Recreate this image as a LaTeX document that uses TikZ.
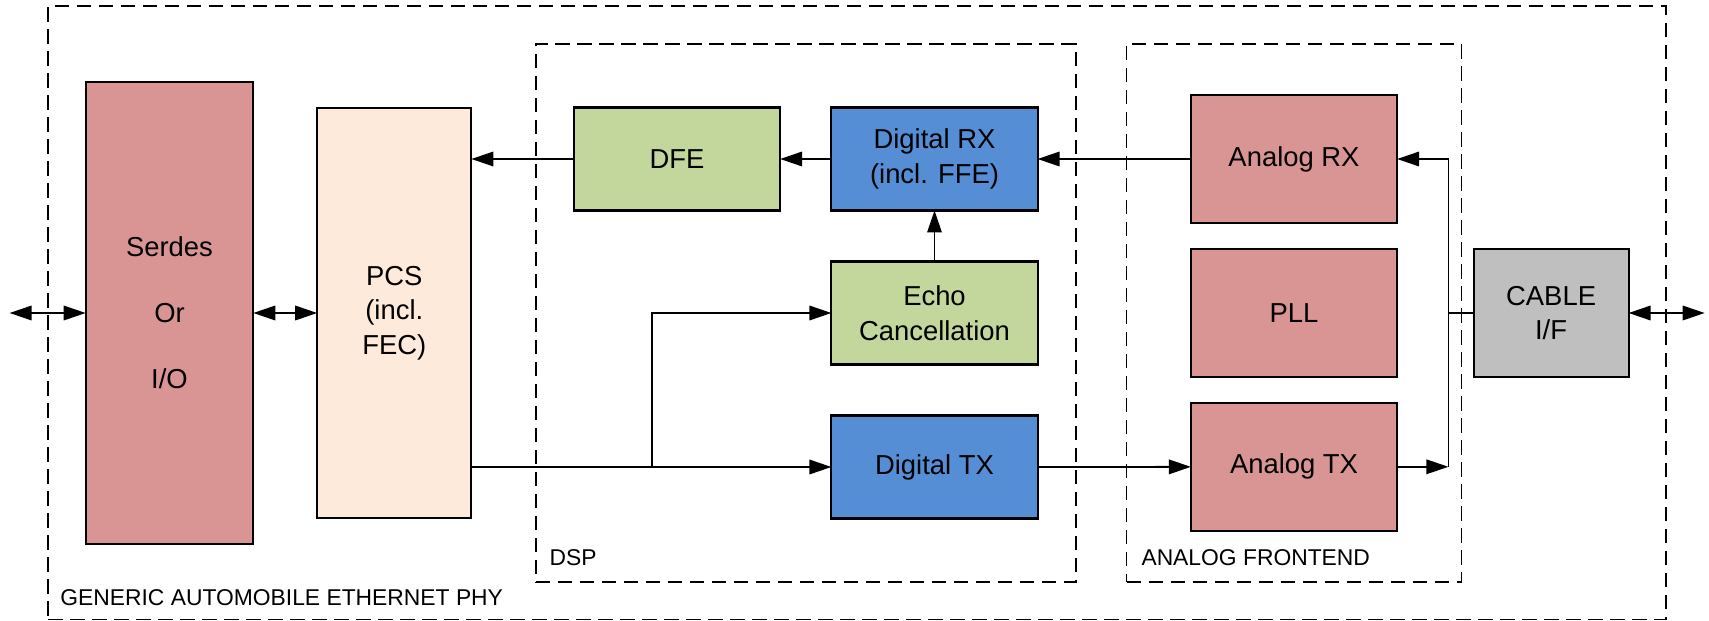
\documentclass[tikz,border=0pt]{standalone}
\usepackage{fontspec}
\setmainfont{Liberation Sans}
\usepackage{xcolor}
\usepackage{tikz}
\usetikzlibrary{shapes,arrows.meta,positioning,fit}
\definecolor{rougeAna}{RGB}{217,149,148}
\definecolor{saumonPcs}{RGB}{253,234,218}
\definecolor{vertDsp}{RGB}{195,214,155}
\definecolor{bleuDig}{RGB}{85,142,213}
\definecolor{grisCable}{RGB}{191,191,191}

\begin{document}
\begin{tikzpicture}[x=1mm, y=-1mm,
		box/.style={rectangle, draw, line width=0.6pt, outer sep=0pt, align=center, inner sep=1pt,
			font=\fontsize{7.8}{9.8}\selectfont},
		dspbox/.style={box, minimum width=20.62mm, minimum height=10.3mm},
		afebox/.style={box, fill=rougeAna, minimum width=20.62mm, minimum height=12.84mm},
		grp/.style={draw, line width=0.5pt, outer sep=0pt, dash pattern=on 1.45mm off 0.75mm},
		grplbl/.style={font=\fontsize{6.5}{7.5}\selectfont, inner sep=0pt, anchor=base west},
		arr/.style={-{Triangle[length=2.2mm, width=1.45mm]}, line width=0.5pt},
		biarr/.style={{Triangle[length=2.2mm, width=1.45mm]}-{Triangle[length=2.2mm, width=1.45mm]}, line width=0.5pt},
		node distance=5.1mm
		]
		\useasboundingbox (0,0) rectangle (170.9,62.1);
		
		\node[box, fill=rougeAna, minimum width=16.76mm, minimum height=46.14mm] (serdes) at (16.95,31.3) {Serdes\\[9pt]Or\\[9pt]I/O};
		\node[box, fill=saumonPcs, minimum width=15.42mm, minimum height=41.03mm] (pcs) at (39.43,31.3) {PCS\\(incl.\\FEC)};
		
		\node[dspbox, fill=vertDsp] (dfe) at (67.70,15.9) {DFE};
		\node[dspbox, fill=bleuDig] (drx) at (93.45,15.9) {Digital RX\\(incl. FFE)};
		\node[dspbox, fill=vertDsp, below=of drx] (echo) {Echo\\Cancellation};
		\node[dspbox, fill=bleuDig, below=of echo] (dtx) {Digital TX};
		
		\node[afebox] (arx) at (129.40,15.9) {Analog RX};
		\node[afebox, below=2.55mm of arx] (pll) {PLL};
		\node[afebox, below=2.55mm of pll] (atx) {Analog TX};
		
		\node[box, fill=grisCable, minimum width=15.5mm, minimum height=12.83mm] (cable) at (155.11,31.3) {CABLE\\I/F};
		
		\node[grp, fit=(dfe)(drx)(dtx), inner xsep=3.82mm, inner ysep=6.35mm] (dsp) {};
		\node[grp, fit=(arx)(atx), inner xsep=6.43mm, inner ysep=5.1mm] (afe) {};
		\node[grp, fit=(serdes)(dsp)(afe)(cable), inner xsep=3.75mm, inner ysep=3.75mm] (phy) {};
		
		\node[grplbl] (dsplbl) at ([shift={(1.33mm,1.64mm)}]dsp.south west) {DSP};
		\node[grplbl] (afelbl) at ([shift={(1.42mm,1.64mm)}]afe.south west) {ANALOG FRONTEND};
		\node[grplbl] (phylbl) at ([shift={(1.15mm,1.44mm)}]phy.south west) {GENERIC AUTOMOBILE ETHERNET PHY};
		
		\coordinate (lend) at (0.96,31.3);
		\coordinate (rend) at (170.47,31.3);
		\coordinate (split) at (65.19,0);
		\coordinate (bus) at (144.84,0);
		
		\draw[biarr] (lend) -- (serdes);
		\draw[biarr] (serdes) -- (pcs);
		\draw[arr] (dfe) -- (dfe -| pcs.east);
		\draw[arr] (drx) -- (dfe);
		\draw[arr] (arx) -- (drx);
		\draw[arr] (echo) -- (drx);
		\draw[arr] (pcs.east |- dtx) -- (dtx);
		\draw[arr] (split |- dtx) |- (echo);
		\draw[arr] (dtx) -- (atx);
		\draw[arr] (atx) -- (atx -| bus);
		\draw[arr] (atx -| bus) |- (arx);
		\draw[line width=0.5pt] (cable) -- (cable -| bus);
		\draw[biarr] (cable) -- (rend);
\end{tikzpicture}
\end{document}
